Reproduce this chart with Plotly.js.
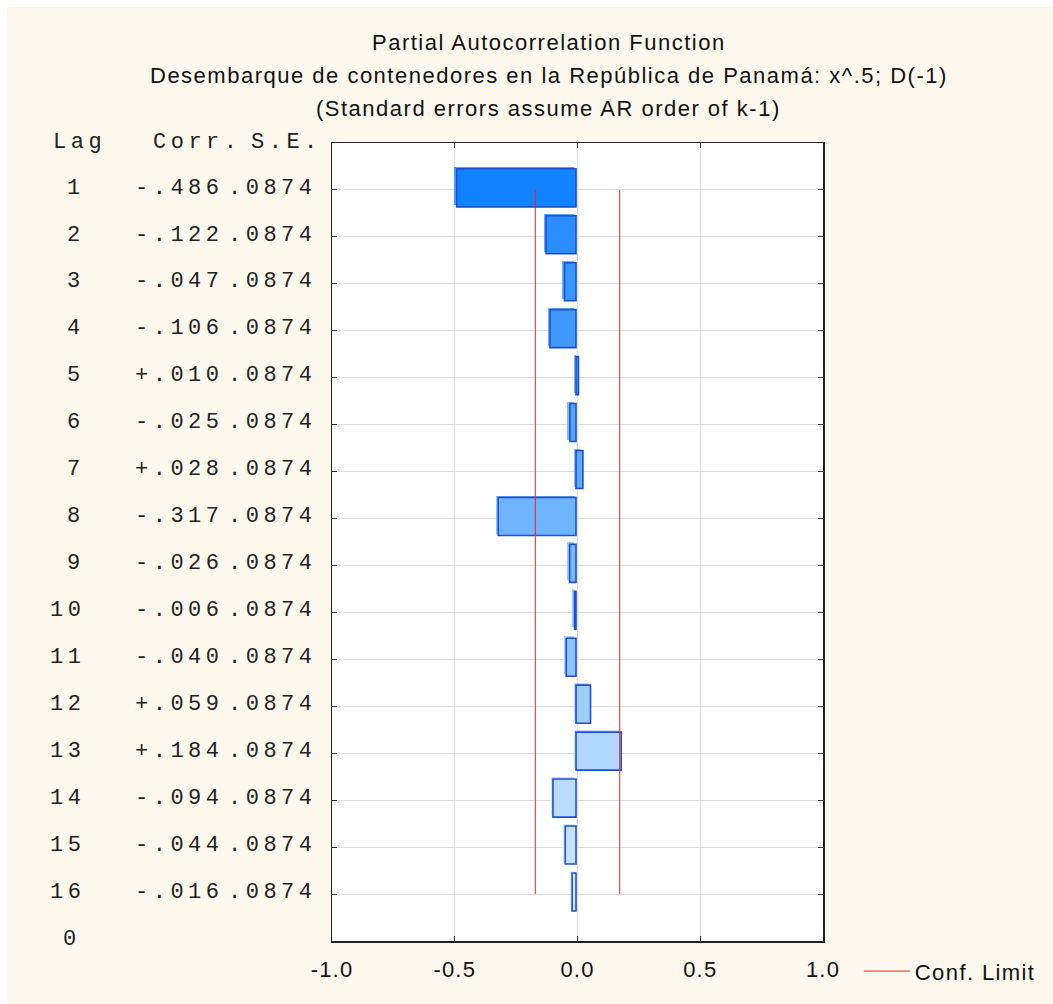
<!DOCTYPE html>
<html>
<head>
<meta charset="utf-8">
<script src="https://cdn.plot.ly/plotly-3.0.1.min.js"></script>
<style>
html, body { margin: 0; padding: 0; background: #ffffff; }
#chart { position: absolute; left: 7px; top: 7px; width: 1046px; height: 997px; }
.annotation-text[style*="Mono"] { letter-spacing: 4.5px; }
.annotation-text[style*="Liberation Sans"] { letter-spacing: 1.5px; }
.xtick text { letter-spacing: 1.2px; }
.legendtext { letter-spacing: 1.4px; }
</style>
</head>
<body>
<div id="chart"></div>
<script>
// ---- data ----
const lags = [1, 2, 3, 4, 5, 6, 7, 8, 9, 10, 11, 12, 13, 14, 15, 16];
const corr = [-0.486, -0.122, -0.047, -0.106, 0.010, -0.025, 0.028, -0.317,
              -0.026, -0.006, -0.040, 0.059, 0.184, -0.094, -0.044, -0.016];
const corrLabels = ["-.486", "-.122", "-.047", "-.106", "+.010", "-.025", "+.028", "-.317",
                    "-.026", "-.006", "-.040", "+.059", "+.184", "-.094", "-.044", "-.016"];
const seLabels = [".0874", ".0874", ".0874", ".0874", ".0874", ".0874", ".0874", ".0874",
                  ".0874", ".0874", ".0874", ".0874", ".0874", ".0874", ".0874", ".0874"];
const confLimit = [-0.172, 0.172];
const confLagSpan = [1, 16];
const xTickVals = [-1, -0.5, 0, 0.5, 1];
const xTickText = ["-1.0", "-0.5", "0.0", "0.5", "1.0"];
const barColors = ["#1283ff", "#2a8eff", "#3796ff", "#409afe", "#4c9ffe", "#56a4fe", "#60a9fe", "#6eb4ff",
                   "#7ab9ff", "#84bfff", "#8fc4ff", "#9fcdff", "#b2d7ff", "#bcdcff", "#c6e1ff", "#d1e7ff"];
const titleLines = ["Partial Autocorrelation Function",
                    "Desembarque de contenedores en la República de Panamá: x^.5; D(-1)",
                    "(Standard errors assume AR order of k-1)"];
const headerLag = "Lag";
const headerCorr = "Corr.";
const headerSE = "S.E.";
const bottomLabel = "0";
const legendName = "Conf. Limit";

// ---- styling ----
const mono = '"Liberation Mono", "Courier New", monospace';
const sans = '"Liberation Sans", Arial, sans-serif';
const monoFont = { family: mono, size: 22, color: '#222' };
const barW = 0.81;
const frontBase = -0.006;
const backBase = -0.016;     // back face shifted left
const frontShift = -0.045;   // bars sit slightly above the grid line (reversed axis)
const backShift = -0.085;    // back face shifted further up

const back = {
  type: 'bar', orientation: 'h',
  y: lags, x: corr,
  base: lags.map(() => backBase),
  width: lags.map(() => barW),
  offset: lags.map(() => -barW / 2 + backShift),
  marker: { color: barColors, opacity: 0.75, line: { width: 0 } },
  showlegend: false, hoverinfo: 'skip'
};
const front = {
  type: 'bar', orientation: 'h',
  y: lags, x: corr,
  base: lags.map(() => frontBase),
  width: lags.map(() => barW),
  offset: lags.map(() => -barW / 2 + frontShift),
  marker: { color: barColors, line: { color: '#1c4fd4', width: 1.6 } },
  showlegend: false
};
const conf = {
  type: 'scatter', mode: 'lines',
  x: [confLimit[0], confLimit[0], null, confLimit[1], confLimit[1]],
  y: [confLagSpan[0], confLagSpan[1], null, confLagSpan[0], confLagSpan[1]],
  line: { color: '#f01e1e', width: 1 },
  name: legendName, showlegend: true
};

// plot area spans page pixels x 332..839, y 143..960
const px = p => (p - 332) / 507;
const py = p => (960 - p) / 817;
const annotations = [];
titleLines.forEach((t, i) => {
  annotations.push({
    xref: 'paper', yref: 'paper', x: px(556), y: py([40, 74, 108][i]),
    xanchor: 'center', yanchor: 'middle', showarrow: false, text: t,
    font: { family: sans, size: 22, color: '#111' }
  });
});
const monoPaper = (x, y, text, anchor) => ({
  xref: 'paper', yref: 'paper', x: px(x), y: py(y), xanchor: anchor, yanchor: 'middle',
  showarrow: false, text: text, font: monoFont
});
const monoRow = (x, lag, text, anchor) => ({
  xref: 'paper', yref: 'y', x: px(x), y: lag - 0.04, xanchor: anchor, yanchor: 'middle',
  showarrow: false, text: text, font: monoFont
});
annotations.push(monoPaper(42, 142, headerLag, 'left'));
annotations.push(monoPaper(145, 142, headerCorr, 'left'));
annotations.push(monoPaper(246, 142, headerSE, 'left'));
lags.forEach((l, i) => {
  annotations.push(monoRow(79, l, String(l), 'right'));
  annotations.push(monoRow(127, l, corrLabels[i], 'left'));
  annotations.push(monoRow(223, l, seLabels[i], 'left'));
});
annotations.push(monoPaper(52, 958, bottomLabel, 'left'));

const layout = {
  width: 1046, height: 997,
  margin: { l: 325, r: 214, t: 136, b: 44 },
  paper_bgcolor: '#fdf8ee',
  plot_bgcolor: '#ffffff',
  barmode: 'overlay',
  bargap: 0,
  xaxis: {
    range: [-1, 1], tickmode: 'array', tickvals: xTickVals, ticktext: xTickText,
    ticks: 'inside', ticklen: 5, tickcolor: '#333', tickwidth: 1,
    showgrid: true, gridcolor: '#dedede', gridwidth: 1, zeroline: false,
    showline: true, linecolor: '#222', linewidth: 1.5, mirror: 'ticks',
    ticklabelstandoff: 8,
    tickfont: { family: sans, size: 22, color: '#111' }
  },
  yaxis: {
    range: [17, 0], tickmode: 'array', tickvals: lags, showticklabels: false,
    ticks: 'inside', ticklen: 5, tickcolor: '#333', tickwidth: 1,
    showgrid: true, gridcolor: '#dedede', gridwidth: 1, zeroline: false,
    showline: true, linecolor: '#222', linewidth: 1.5, mirror: 'ticks'
  },
  showlegend: true,
  legend: {
    x: px(876), y: py(991), xanchor: 'left', yanchor: 'middle',
    itemwidth: 46, borderwidth: 0,
    bgcolor: 'rgba(0,0,0,0)', font: { family: sans, size: 22, color: '#111' }
  },
  annotations: annotations
};

Plotly.newPlot('chart', [back, front, conf], layout, { displayModeBar: false, staticPlot: true });
</script>
</body>
</html>
